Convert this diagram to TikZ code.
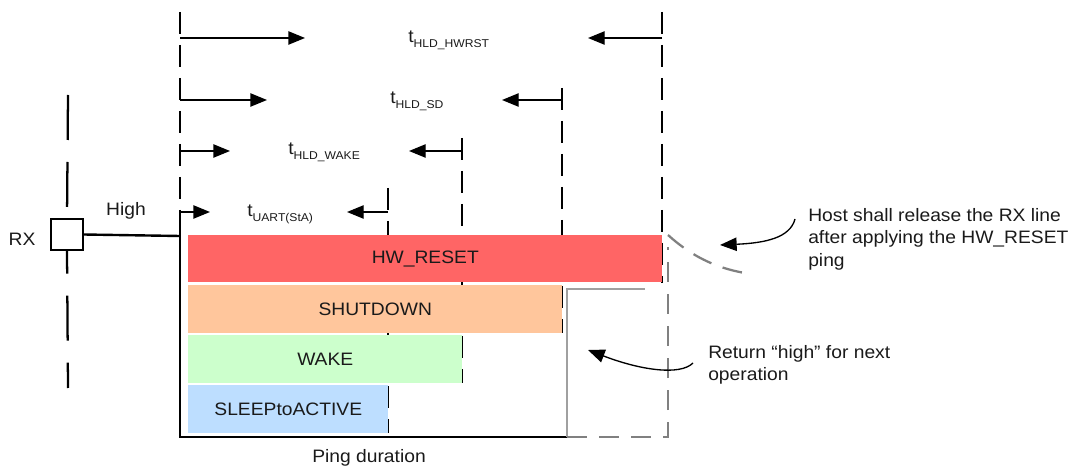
\documentclass[tikz,border=0pt]{standalone}
\usepackage{fontspec}
\setmainfont{Liberation Sans}[FakeStretch=1.07]
\usetikzlibrary{arrows.meta}
\definecolor{hwred}{HTML}{FF6565}
\definecolor{sdorange}{HTML}{FFC69C}
\definecolor{wkgreen}{HTML}{CCFFCC}
\definecolor{slblue}{HTML}{BDDEFF}
\definecolor{greyline}{HTML}{A0A0A0}
\definecolor{greydashc}{HTML}{808080}
\definecolor{txt}{HTML}{1A1A1A}
\newcommand{\tlab}[1]{t\raisebox{-0.5ex}{\fontsize{8.5}{9}\selectfont #1}}
\tikzset{
  lbl/.style={font=\fontsize{13.5}{17}\selectfont, inner sep=0pt, text=txt},
  tarr/.style={-{Triangle[length=12.5pt,width=10pt]}, line width=1pt},
  vdash/.style={line width=2pt, dash pattern=on 16.5pt off 8.25pt},
  rxdash/.style={line width=1.7pt, dash pattern=on 33.75pt off 16.5pt},
  solidl/.style={line width=1.8pt},
  greyl/.style={line width=2pt, greyline},
  greyd/.style={line width=1.7pt, greydashc, dash pattern=on 15pt off 9pt},
  barbox/.style={inner sep=0pt, anchor=north west, font=\fontsize{13.5}{17}\selectfont, text=txt},
}
\begin{document}
\begin{tikzpicture}[x=0.75pt,y=-0.75pt]
\useasboundingbox (0,0) rectangle (1070,466);

% vertical reference lines
\coordinate (L0t) at (180,12);  \coordinate (L0b) at (180,213);
\coordinate (L1t) at (388,188); \coordinate (L1b) at (388,433);
\coordinate (L2t) at (462,138); \coordinate (L2b) at (462,383);
\coordinate (L3t) at (562,88);  \coordinate (L3b) at (562,333);
\coordinate (L4t) at (662,12);  \coordinate (L4b) at (662,283);
\draw[vdash] (L0t) -- (L0b);
\draw[vdash] (L1t) -- (L1b);
\draw[vdash] (L2t) -- (L2b);
\draw[vdash] (L3t) -- (L3b);
\draw[vdash] (L4t) -- (L4b);

% coloured bars
\node[barbox, fill=hwred, minimum width=474*0.75pt, minimum height=47*0.75pt] (hw) at (188,235) {HW\_RESET};
\node[barbox, fill=sdorange, minimum width=374*0.75pt, minimum height=48*0.75pt] (sd) at (188,285) {SHUTDOWN};
\node[barbox, fill=wkgreen, minimum width=274*0.75pt, minimum height=48*0.75pt] (wk) at (188,335) {WAKE};
\node[barbox, fill=slblue, minimum width=200*0.75pt, minimum height=48*0.75pt] (sl) at (188,385) {SLEEPtoACTIVE};

% RX line and square
\node[draw, line width=1pt, minimum width=32*0.75pt, minimum height=31*0.75pt, inner sep=0pt] (sq) at (67,234.5) {};
\coordinate (rxt) at (68,95);
\coordinate (rxb) at (68,388);
\draw[rxdash] (rxt) -- (sq.north);
\draw[rxdash, dash phase=16.5pt] (sq.south) -- (rxb);
\node[lbl] (rx) at (22,239) {RX};
\node[lbl] (high) at (126,211) {High};

% signal: high then low (box outline)
\coordinate (c1) at (180,236);
\coordinate (c2) at (180,437);
\coordinate (c3) at (567,437);
\coordinate (g1) at (567,289);
\coordinate (g2) at (645,289);
\coordinate (d1) at (668,437);
\coordinate (d2) at (668,247);
\coordinate (d3) at (668,235);
\coordinate (d4) at (745,273);
\draw[solidl] (sq.east) -- (c1);
\draw[solidl] (L0b) -- (c2) -- (c3);
\draw[greyl] (c3) -- (g1) -- (g2);
\draw[greyd] (c3) -- (d1) -- (d2);
\draw[greyd] (d3) .. controls (690,255) and (715,268) .. (d4);

% timing arrows
\coordinate (r1a) at (180,38);  \coordinate (r1b) at (305,38);
\coordinate (r1c) at (662,38);  \coordinate (r1d) at (588,38);
\coordinate (r2a) at (180,100); \coordinate (r2b) at (267,100);
\coordinate (r2c) at (562,100); \coordinate (r2d) at (502,100);
\coordinate (r3a) at (180,151); \coordinate (r3b) at (230,151);
\coordinate (r3c) at (462,151); \coordinate (r3d) at (409,151);
\coordinate (r4a) at (180,212); \coordinate (r4b) at (210,212);
\coordinate (r4c) at (388,212); \coordinate (r4d) at (347,212);
\draw[tarr] (r1a) -- (r1b);
\draw[tarr] (r1c) -- (r1d);
\draw[tarr] (r2a) -- (r2b);
\draw[tarr] (r2c) -- (r2d);
\draw[tarr] (r3a) -- (r3b);
\draw[tarr] (r3c) -- (r3d);
\draw[tarr] (r4a) -- (r4b);
\draw[tarr] (r4c) -- (r4d);

\node[lbl, anchor=base west] (t1) at (408,43) {\tlab{HLD\_HWRST}};
\node[lbl, anchor=base west] (t2) at (390,104) {\tlab{HLD\_SD}};
\node[lbl, anchor=base west] (t3) at (288,155) {\tlab{HLD\_WAKE}};
\node[lbl, anchor=base west] (t4) at (247,217) {\tlab{UART(StA)}};

% annotations
\node[lbl, anchor=north west, align=left, font=\fontsize{13.5}{16.9}\selectfont] (note1) at (808,208)
  {Host shall release the RX line\\after applying the HW\_RESET\\ping};
\node[lbl, anchor=north west, align=left, font=\fontsize{13.5}{16.9}\selectfont] (note2) at (708,345)
  {Return “high” for next\\operation};
\coordinate (n1s) at (795,219);
\coordinate (n1e) at (720,245);
\draw[tarr] (n1s) .. controls (790,238) and (765,243) .. (n1e);
\coordinate (n2s) at (693,363);
\coordinate (n2e) at (588,350);
\draw[tarr] (n2s) .. controls (680,376) and (640,370) .. (n2e);

\node[lbl, anchor=north west] (ping) at (312,449) {Ping duration};
\end{tikzpicture}
\end{document}
